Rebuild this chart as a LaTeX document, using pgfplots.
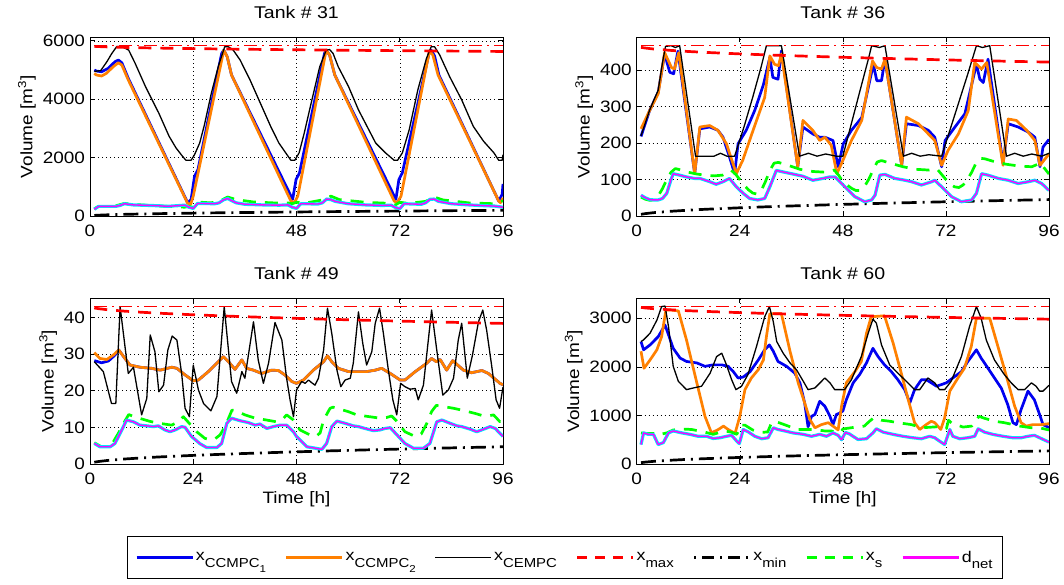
\documentclass[border=0pt]{standalone}
\usepackage{fontspec}
\setmainfont{Liberation Sans}[FakeStretch=1.15]
\usepackage{pgfplots}
\pgfplotsset{compat=1.18}
\definecolor{cB}{RGB}{0,0,240}
\definecolor{cO}{RGB}{255,128,0}
\definecolor{cG}{RGB}{0,255,0}
\definecolor{cM}{RGB}{255,0,255}
\definecolor{cC}{RGB}{0,230,255}
\newcommand{\sub}[1]{\raisebox{-0.42em}{\fontsize{13}{13}\selectfont #1}}
\newcommand{\subsub}[1]{\raisebox{-0.38em}{\fontsize{10}{10}\selectfont #1}}
\pgfplotsset{
  tank/.style={
    scale only axis, anchor=south west,
    xmin=0, xmax=96, ymin=0,
    xtick={0,24,48,72,96},
    grid=major,
    grid style={black, line width=0.5pt, dash pattern=on 0.8pt off 3.2pt},
    axis line style={line width=0.8pt},
    tick align=inside, major tick length=5pt,
    tick style={line width=0.6pt, black},
    every tick label/.append style={font=\fontsize{16.5}{18}\selectfont},
    /pgf/number format/assume math mode=true,
    /pgf/number format/1000 sep={},
    scaled y ticks=false,
    xticklabel style={yshift=-5pt},
    yticklabel style={xshift=-1.5pt},
    title style={font=\fontsize{17}{19}\selectfont, yshift=9pt},
    label style={font=\fontsize{16.5}{18}\selectfont},
    ylabel={Volume [m\textsuperscript{3}]},
    line join=round,
  },
  sB/.style={color=cB, line width=2.7pt},
  sO/.style={color=cO, line width=2.7pt},
  sK/.style={black, line width=1.3pt},
  sRd/.style={red, line width=1.1pt, dash pattern=on 13pt off 5pt on 2pt off 5pt},
  sR/.style={red, line width=2.7pt, dash pattern=on 13pt off 9pt},
  sKd/.style={black, line width=2.7pt, dash pattern=on 15pt off 6pt on 2pt off 6pt},
  sG/.style={color=cG, line width=2.7pt, dash pattern=on 13pt off 9pt},
  sC/.style={color=cC, line width=3.2pt},
  sM/.style={color=cM, line width=1.4pt},
}
\begin{document}
\begin{tikzpicture}[x=1pt,y=1pt]
\path[use as bounding box] (0,0) rectangle (1064,585);

% ---------------- Tank 31 ----------------
\begin{axis}[tank, at={(90pt,369pt)}, width=413pt, height=178.7pt,
  ymax=6120, ytick={0,2000,4000,6000}, title={Tank \# 31}]
\addplot[sB] coordinates {(1,5000) (1.5,4964) (2.7,4940) (4.2,5055) (5.8,5282) (6.6,5340) (7.4,5248) (8.9,4714) (22.7,454) (23.5,568) (24.3,1363) (25.1,1590) (30.6,5566) (31.1,5680) (31.9,5450) (32.9,4828) (47.1,568) (47.9,1250) (48.7,1477) (54.5,5566) (54.9,5680) (55.7,5510) (56.9,4828) (71.1,568) (71.8,1250) (72.6,1477) (78.8,5566) (79.3,5680) (80.1,5480) (81.1,4828) (95,511) (95.8,738) (96,1100)};
\addplot[sO] coordinates {(1,4880) (1.5,4828) (2.7,4794) (3.8,4885) (5.4,5112) (6.6,5248) (7.4,5169) (8.9,4658) (22.7,432) (23.4,400) (24,680) (31.1,5680) (31.9,5450) (32.9,4828) (46.7,511) (47.5,454) (48.3,680) (54.9,5680) (55.7,5510) (56.9,4828) (70.7,511) (71.4,454) (72.3,680) (78.9,5657) (79.7,5510) (80.9,4828) (95,511) (95.4,454) (96,620)};
\addplot[sK] coordinates {(1,4950) (2.5,4980) (4,5300) (5,5550) (6.2,5800) (7.4,5800) (9,5680) (10.5,5226) (12.9,4430) (16,3520) (18.4,2726) (20,2330) (21.5,2045) (22.3,1908) (23.5,1908) (24.3,2100) (25.5,2500) (26.6,3124) (28.2,4200) (29.8,5112) (31.3,5794) (32.1,5800) (33.3,5680) (34.9,5340) (37.2,4658) (39.6,3862) (42,3067) (43.9,2500) (45.5,2160) (46.7,1908) (47.6,1908) (48.6,2160) (49.8,2840) (51.4,3862) (53.4,5112) (54.9,5680) (55.7,5700) (56.5,5566) (57.7,5112) (60.1,4430) (62.4,3635) (64.8,2954) (66.4,2500) (68.7,2160) (70.7,1908) (71.5,1908) (72.6,2160) (74.2,2954) (76.2,4317) (78.2,5396) (79.3,5794) (80.1,5794) (81.3,5510) (83.6,4771) (86.4,3976) (89.1,3067) (91.5,2556) (93.9,2160) (95,1908) (95.8,1908) (96,2100)};
\addplot[sRd] coordinates {(1,5830) (96,5830)};
\addplot[sR] coordinates {(1,5810) (2,5802) (4,5790) (8,5774) (12,5761) (16,5750) (24,5732) (32,5717) (40,5704) (48,5692) (56,5681) (64,5671) (72,5661) (80,5652) (88,5643) (96,5635)};
\addplot[sKd] coordinates {(1,20) (2,28) (4,40) (8,56) (12,69) (16,80) (24,98) (32,113) (40,126) (48,138) (56,149) (64,159) (72,169) (80,178) (88,187) (96,195)};
\addplot[sG] coordinates {(1,250) (2,330) (4,330) (6,350) (8,430) (10,400) (14,360) (18,330) (22,300) (23,330) (24,300) (25,480) (28,450) (30,500) (32,650) (34,560) (38,480) (44,440) (46,450) (47,420) (48,470) (50,440) (54,550) (56,680) (58,560) (64,470) (70,430) (71,380) (72,470) (74,430) (78,500) (80,650) (82,550) (88,450) (94,420) (96,520)};
\addplot[sC] coordinates {(1,230) (2,330) (6,330) (7,360) (8,420) (9,400) (10,380) (12,370) (14,360) (16,350) (18,330) (20,350) (22,370) (23,300) (24,260) (25,430) (29,420) (30,450) (31,550) (32,600) (33,520) (34,450) (36,400) (40,380) (44,370) (46,380) (47,300) (48,260) (49,420) (53,410) (54,450) (55,580) (56,560) (57,500) (60,420) (64,380) (68,360) (70,370) (71,290) (72,250) (73,420) (77,400) (78,450) (79,570) (80,580) (81,500) (84,420) (88,380) (92,350) (94,340) (96,300)};
\addplot[sM] coordinates {(1,230) (2,330) (6,330) (7,360) (8,420) (9,400) (10,380) (12,370) (14,360) (16,350) (18,330) (20,350) (22,370) (23,300) (24,260) (25,430) (29,420) (30,450) (31,550) (32,600) (33,520) (34,450) (36,400) (40,380) (44,370) (46,380) (47,300) (48,260) (49,420) (53,410) (54,450) (55,580) (56,560) (57,500) (60,420) (64,380) (68,360) (70,370) (71,290) (72,250) (73,420) (77,400) (78,450) (79,570) (80,580) (81,500) (84,420) (88,380) (92,350) (94,340) (96,300)};
\end{axis}

% ---------------- Tank 36 ----------------
\begin{axis}[tank, at={(636.7pt,369pt)}, width=412.3pt, height=178.7pt,
  ymax=490, ytick={0,100,200,300,400}, title={Tank \# 36}]
\addplot[sB] coordinates {(1,218) (3,289) (5,339) (6.5,444) (7.7,394) (8.6,390) (9.6,452) (13.5,116) (14.7,239) (17,244) (18.9,235) (20.1,216) (21.6,162) (22.8,116) (23.6,198) (25.5,235) (27.5,290) (29.5,360) (31,435) (31.7,380) (32.9,375) (33.7,453) (37.5,135) (38.7,244) (41,225) (42.6,216) (43.8,216) (45.7,207) (46.9,135) (48.1,198) (50,235) (52.4,270) (55.1,416) (55.9,371) (57,371) (57.8,430) (61.7,139) (62.8,253) (65.6,248) (67.9,235) (69.4,216) (71,135) (71.8,207) (74.1,244) (76.4,280) (79.1,416) (79.9,375) (80.7,366) (81.8,430) (85.3,144) (86.5,253) (88.8,244) (91.2,230) (92.7,216) (93.9,135) (94.6,189) (96,210)};
\addplot[sO] coordinates {(1,239) (3,289) (5,335) (6.5,448) (8.1,407) (8.8,403) (9.8,448) (13.5,116) (14.7,244) (17,248) (18.9,235) (20.9,198) (22.4,144) (23.2,116) (24.7,153) (27.1,235) (29.8,325) (31,439) (32.1,416) (33,412) (33.7,444) (37.5,135) (38.7,262) (41,235) (42.6,207) (43.8,216) (45.3,194) (46.6,116) (47.7,144) (50,207) (52.4,262) (54.9,425) (55.9,407) (57,403) (57.8,430) (61.7,139) (62.8,271) (65.6,253) (67.9,225) (69.4,207) (71,139) (72.5,180) (74.9,225) (77.2,289) (78.7,421) (80.3,403) (81.5,421) (85.3,139) (86.5,266) (88.4,262) (90.8,235) (92.7,207) (93.9,139) (96,170)};
\addplot[sK] coordinates {(1,220) (2,255) (3,290) (4,318) (5,345) (6,420) (6.7,465) (8,467) (9,462) (10,467) (13.7,164) (16,164) (18,164) (19.5,172) (21,164) (22.8,164) (25,245) (27,325) (29,410) (30.2,467) (33.7,467) (37.9,164) (40,172) (42,164) (44,170) (46.5,164) (48,164) (50,254) (52,344) (54,433) (54.7,467) (56.5,462) (57.8,467) (62.1,164) (64,172) (66,164) (68,168) (71,164) (73,238) (75,312) (77,386) (79.1,467) (80.5,462) (82.2,467) (86.1,164) (88,172) (90,164) (92,170) (94.3,164) (96,172)};
\addplot[sRd] coordinates {(1,467) (96,467)};
\addplot[sR] coordinates {(1,462.4) (2,460.5) (4,457.8) (8,454) (12,451.1) (16,448.6) (24,444.5) (32,441) (40,438) (48,435.2) (56,432.6) (64,430.3) (72,428) (80,425.9) (88,423.9) (96,422)};
\addplot[sKd] coordinates {(1,4.6) (2,6.5) (4,9.2) (8,13) (12,15.9) (16,18.4) (24,22.5) (32,26) (40,29) (48,31.8) (56,34.4) (64,36.7) (72,39) (80,41.1) (88,43.1) (96,45)};
\addplot[sG] coordinates {(1,52) (2,46) (3,43) (4,44) (5,55) (6,75) (7,100) (8,120) (9,130) (10,127) (12,120) (14,115) (16,112) (18,110) (20,112) (21,118) (22,125) (23,115) (24,100) (25,85) (26,72) (27,63) (28,60) (29,70) (30,95) (31,125) (32,145) (33,147) (35,140) (38,128) (41,122) (44,120) (45,123) (46,126) (47,112) (48,95) (49,85) (50,76) (51,70) (52,70) (53,80) (54,100) (55,125) (56,148) (57,152) (59,145) (62,135) (65,128) (68,126) (69,128) (70,128) (71,114) (72,100) (73,87) (74,80) (75,78) (76,85) (77,100) (78,120) (79,145) (80,158) (81,157) (83,150) (86,142) (89,137) (92,135) (93,140) (94,145) (95,130) (96,115)};
\addplot[sC] coordinates {(1,57) (2,50) (3,45) (4,44) (5,44) (6,48) (7,62) (8,100) (8.5,116) (10,112) (11.6,107) (13.5,103) (14.7,103) (17,94) (18.5,87) (20.1,94) (21.6,103) (23.2,80) (24.8,62) (26.3,48) (28.2,44) (29.8,48) (31,80) (32.5,125) (34,121) (36.4,115) (38.7,109) (41,98) (43.4,103) (44.9,107) (46.2,107) (48.5,80) (50.8,53) (53.1,39) (54.7,44) (55.5,57) (56.6,112) (57.8,114) (60.1,103) (62.5,98) (64,94) (66.3,85) (68.7,94) (69.4,98) (71,80) (73.3,53) (75.6,39) (78,44) (79.1,62) (80.3,116) (81.8,112) (84.2,103) (86.5,98) (88.8,89) (91.2,94) (92.7,98) (94.3,89) (96,70)};
\addplot[sM] coordinates {(1,57) (2,50) (3,45) (4,44) (5,44) (6,48) (7,62) (8,100) (8.5,116) (10,112) (11.6,107) (13.5,103) (14.7,103) (17,94) (18.5,87) (20.1,94) (21.6,103) (23.2,80) (24.8,62) (26.3,48) (28.2,44) (29.8,48) (31,80) (32.5,125) (34,121) (36.4,115) (38.7,109) (41,98) (43.4,103) (44.9,107) (46.2,107) (48.5,80) (50.8,53) (53.1,39) (54.7,44) (55.5,57) (56.6,112) (57.8,114) (60.1,103) (62.5,98) (64,94) (66.3,85) (68.7,94) (69.4,98) (71,80) (73.3,53) (75.6,39) (78,44) (79.1,62) (80.3,116) (81.8,112) (84.2,103) (86.5,98) (88.8,89) (91.2,94) (92.7,98) (94.3,89) (96,70)};
\end{axis}

% ---------------- Tank 49 ----------------
\begin{axis}[tank, at={(90pt,121pt)}, width=413pt, height=165.7pt,
  ymax=45.2, ytick={0,10,20,30,40}, title={Tank \# 49}, xlabel={Time [h]}]
\addplot[sB] coordinates {(1,28.2) (2.7,27.6) (4.3,28.1) (5.8,29.7) (6.7,31.1) (7.8,29.3) (9.3,27) (11.6,26.4) (14.3,26.1) (16.3,25.6) (19,26.4) (20.2,26.1) (22.1,24.3) (24,22.7) (25.2,22.9) (27.5,25.2) (29.8,27.9) (31,29.3) (32.2,27.9) (33.7,25.8) (35.3,28.4) (36.4,26.1) (38,25.6) (39.9,24.7) (42.2,25.6) (43.8,25.5) (45.3,24.3) (46.9,22.5) (48,22) (49.6,22.9) (51.9,25.6) (54.3,27.9) (55.2,29.5) (56.2,27.9) (57.7,26.1) (60.1,25.2) (62,25.2) (64.3,25.2) (66.3,25.6) (67.8,26.1) (69.8,24.7) (72.1,22.9) (73.2,22.9) (75.6,25.2) (78.3,27.5) (79.4,28.8) (80.5,27.9) (81.4,28.5) (82.9,25.6) (84.3,28.2) (86.8,25.6) (88.7,24.9) (91.1,25.5) (92.6,24.7) (95.3,22) (96,21.6)};
\addplot[sO] coordinates {(1,30.4) (2.3,28.8) (3.9,28.5) (5.4,29.7) (6.7,31.1) (7.8,29.3) (9.3,27) (11.6,26.4) (14.3,26.1) (16.3,25.6) (19,26.4) (20.2,26.1) (22.1,24.3) (24,22.7) (25.2,22.9) (27.5,25.2) (29.8,27.9) (31,29.3) (32.2,27.9) (33.7,25.8) (35.3,28.4) (36.4,26.1) (38,25.6) (39.9,24.7) (42.2,25.6) (43.8,25.5) (45.3,24.3) (46.9,22.5) (48,22) (49.6,22.9) (51.9,25.6) (54.3,27.9) (55.2,29.5) (56.2,27.9) (57.7,26.1) (60.1,25.2) (62,25.2) (64.3,25.2) (66.3,25.6) (67.8,26.1) (69.8,24.7) (72.1,22.9) (73.2,22.9) (75.6,25.2) (78.3,27.5) (79.4,28.8) (80.5,27.9) (81.4,28.5) (82.9,25.6) (84.3,28.2) (86.8,25.6) (88.7,24.9) (91.1,25.5) (92.6,24.7) (95.3,22) (96,21.6)};
\addplot[sK] coordinates {(1,27.9) (3.1,25.2) (5,16.5) (6,16.5) (7,42.9) (8.9,24.7) (10.1,26.4) (12,13.4) (13.2,17.9) (14,35.2) (15.1,30.6) (16,19.7) (17.1,21.5) (18.1,31.1) (19.1,34.9) (20.2,33.8) (21.3,24.7) (22.1,15.2) (23.1,12.9) (24,27) (25.2,20.2) (26.4,16.5) (28.1,14.5) (29.5,18.4) (31.2,42.9) (32.9,22.5) (34.1,19.3) (35.3,25.2) (36,23.4) (38,38.8) (39.1,28.4) (40.3,22) (41.5,27.5) (43,38.6) (44.6,33.8) (45.7,23.4) (46.5,17.5) (47.3,12.9) (48,20.2) (49.2,22.5) (50,22) (50.8,22.9) (51.5,22.2) (52.3,21.5) (53.1,23.4) (54.3,31.1) (55.2,42.5) (56.2,35.6) (57.4,25.6) (58.3,21.1) (59.3,22.9) (60.5,23.4) (61.2,27.5) (62.4,41.5) (63.4,32.9) (64.3,27) (65.5,30.6) (66.3,38.4) (67.3,42.5) (68.2,35.6) (69.4,25.2) (70.4,17.5) (71.3,13.4) (72.2,22) (73.2,21.1) (74.4,20.4) (75.6,20.6) (76.3,17.5) (77.5,21.5) (79.4,42) (80.6,31.1) (82,18.8) (83.3,20.2) (84.5,23.4) (85.6,33.8) (86.4,38.4) (87.7,23.4) (88.9,29.7) (90.3,38.8) (91.3,42) (92.2,36.5) (93.4,26.5) (94.4,17.5) (95.2,15.2) (96,21)};
\addplot[sRd] coordinates {(1,43.05) (96,43.05)};
\addplot[sR] coordinates {(1,42.57) (2,42.37) (4,42.09) (8,41.69) (12,41.39) (16,41.13) (24,40.7) (32,40.34) (40,40.02) (48,39.73) (56,39.46) (64,39.21) (72,38.98) (80,38.76) (88,38.55) (96,38.35)};
\addplot[sKd] coordinates {(1,0.48) (2,0.68) (4,0.96) (8,1.36) (12,1.66) (16,1.92) (24,2.35) (32,2.71) (40,3.03) (48,3.32) (56,3.59) (64,3.84) (72,4.07) (80,4.29) (88,4.5) (96,4.7)};
\addplot[sG] coordinates {(1,5.8) (2.5,4.8) (4,4.8) (5,5.2) (6.6,8.4) (8,11.5) (9,13.5) (10,13) (12,12.3) (14,11.6) (16.7,11) (19,10.6) (20.5,11.5) (21.7,12.9) (23,11.2) (24.8,8.8) (26.7,7) (28,6.6) (29,6.8) (30.2,7.9) (31.4,10.2) (33,14.7) (34,14.5) (36,13.4) (38.4,12.5) (41,12) (43.4,11.5) (45,12.5) (45.7,13.4) (47.3,12) (48.8,9.3) (51.2,7.9) (52.5,7.5) (53.5,8.5) (54.3,12) (55.8,15.2) (56.5,15.5) (60,14.3) (62,13.4) (65,12.9) (67.4,12.5) (69,12.7) (70.1,13.1) (71.3,11.7) (73.2,8.8) (75.6,7.5) (77,8.2) (78.3,11.1) (79.4,14.3) (80.5,16) (82,15.7) (84.5,15.2) (86.4,14.7) (89.5,13.8) (91.5,13.1) (93,13.2) (93.8,13.4) (95.3,11.5) (96,12)};
\addplot[sC] coordinates {(1,5.6) (2.3,4.7) (4.7,4.7) (5.8,5.6) (7.4,9.3) (8.5,12) (10.1,11.5) (11.6,10.6) (13.2,10.4) (14.7,10.2) (15.9,10.4) (17.4,9.3) (18.6,8.8) (19.8,9.3) (21.3,10.2) (22.1,10) (23.6,7.5) (25.6,5.5) (27.1,4.5) (29.5,4.5) (30.6,5.6) (31.8,11.1) (32.9,12.5) (34.9,11.8) (36.8,11.3) (38.4,10.6) (39.5,10.9) (41.1,9.7) (42.6,10.2) (44.2,10.6) (45.7,10.6) (47.3,8.8) (48,7.5) (50.4,4.7) (53.9,4) (55,5.6) (56.2,10.2) (57.4,11.7) (59.3,11.1) (61.2,10.4) (62.4,10.2) (63.9,9.7) (65.9,9.1) (67.4,9.3) (68.6,9.7) (69.8,9.9) (71.7,7.5) (73.2,5.6) (75.2,4.3) (77.5,4.3) (79,5.6) (80.6,11.5) (81.8,12) (83.7,11.1) (85.3,10.4) (86.4,10.2) (88.4,9.5) (89.9,8.8) (91.5,9.5) (93,10.2) (94.2,9.7) (96,7.5)};
\addplot[sM] coordinates {(1,5.6) (2.3,4.7) (4.7,4.7) (5.8,5.6) (7.4,9.3) (8.5,12) (10.1,11.5) (11.6,10.6) (13.2,10.4) (14.7,10.2) (15.9,10.4) (17.4,9.3) (18.6,8.8) (19.8,9.3) (21.3,10.2) (22.1,10) (23.6,7.5) (25.6,5.5) (27.1,4.5) (29.5,4.5) (30.6,5.6) (31.8,11.1) (32.9,12.5) (34.9,11.8) (36.8,11.3) (38.4,10.6) (39.5,10.9) (41.1,9.7) (42.6,10.2) (44.2,10.6) (45.7,10.6) (47.3,8.8) (48,7.5) (50.4,4.7) (53.9,4) (55,5.6) (56.2,10.2) (57.4,11.7) (59.3,11.1) (61.2,10.4) (62.4,10.2) (63.9,9.7) (65.9,9.1) (67.4,9.3) (68.6,9.7) (69.8,9.9) (71.7,7.5) (73.2,5.6) (75.2,4.3) (77.5,4.3) (79,5.6) (80.6,11.5) (81.8,12) (83.7,11.1) (85.3,10.4) (86.4,10.2) (88.4,9.5) (89.9,8.8) (91.5,9.5) (93,10.2) (94.2,9.7) (96,7.5)};
\end{axis}

% ---------------- Tank 60 ----------------
\begin{axis}[tank, at={(636.7pt,121pt)}, width=412.3pt, height=165.7pt,
  ymax=3410, ytick={0,1000,2000,3000}, title={Tank \# 60}, xlabel={Time [h]}]
\addplot[sB] coordinates {(1,2520) (1.6,2350) (3.1,2450) (5,2620) (6.6,2860) (7.4,2660) (8.5,2380) (10.1,2180) (11.6,2110) (14,2080) (15.9,2010) (17.8,2040) (19.8,2040) (21.3,2010) (22.5,1900) (23.6,1770) (24.8,1790) (26.4,1900) (28.3,2140) (29.8,2350) (30.9,2450) (31.8,2320) (32.9,2110) (34.9,2010) (36.8,1870) (38,1670) (39.1,1260) (39.9,765) (40.7,980) (41.5,1020) (42.6,1290) (43.8,1190) (45,980) (45.7,810) (46.5,1020) (47.1,1040) (48,1090) (48.8,1320) (50.4,1670) (51.9,1840) (53.5,2080) (55,2380) (56.2,2210) (57.7,2040) (59.3,1900) (60.8,1735) (62.4,1530) (63.6,1260) (64.7,1530) (66.3,1735) (67.4,1735) (68.6,1670) (69.8,1600) (70.8,1630) (72.1,1670) (73.6,1770) (75.6,1900) (77.1,2110) (79.1,2350) (80.2,2180) (81.8,1970) (83.3,1770) (84.9,1560) (86.4,1220) (87.6,850) (88.4,810) (89.5,1120) (91.1,1500) (92.6,1320) (93.8,1020) (94.6,810) (96,750)};
\addplot[sO] coordinates {(1,2320) (1.7,1970) (3.1,2140) (4.7,2350) (5.8,2620) (6.8,3170) (7.8,3170) (9.7,3150) (11.6,2550) (14,1670) (15.9,980) (17.4,640) (19,710) (20.2,780) (21.3,710) (22.9,630) (24,980) (25.2,1530) (26.7,1770) (28.3,1940) (29.5,2140) (30.2,2620) (31,3090) (33.7,3090) (35.7,2320) (37.6,1670) (39.1,1260) (40.3,920) (41.5,745) (43,810) (44.6,850) (45.7,780) (46.9,700) (47.7,1190) (48.8,1670) (50.8,1900) (52.3,2110) (53.5,2690) (54.6,3030) (57.7,3050) (59.7,2490) (61.6,1870) (63.2,1330) (64.7,850) (65.9,710) (67.4,810) (68.6,880) (69.4,850) (70.8,710) (71.7,950) (72.9,1500) (74.8,1770) (76.3,1970) (77.9,2420) (79.1,3000) (82.2,3000) (84.1,2420) (86.1,1800) (88,1190) (89.5,850) (90.7,780) (92.2,810) (94.2,810) (96,830)};
\addplot[sK] coordinates {(1,2520) (1.6,2555) (3.1,2690) (4.7,2960) (5.8,3240) (6.6,3250) (7.4,2830) (8.5,2010) (9.7,1700) (11.6,1530) (13.2,1565) (15.1,1600) (17.1,1870) (18.6,2210) (19.8,2280) (20.9,2040) (22.1,1735) (23.1,1530) (24.4,1600) (25.9,1840) (27.9,2420) (29.8,3030) (30.9,3240) (31.8,2930) (32.6,2520) (34.1,2280) (35.7,2080) (37.2,1940) (38.8,1700) (39.9,1530) (41.5,1565) (43.8,1770) (45,1670) (46.1,1530) (48.4,1530) (50,1735) (52.3,2210) (53.9,2690) (55,2980) (55.8,2900) (57,2450) (58.9,2040) (60.8,1870) (62.8,1700) (64.7,1530) (65.9,1530) (67.8,1770) (69.4,1670) (70.5,1530) (71.7,1530) (73.2,1700) (75.6,2210) (77.5,2830) (79.1,3240) (80.2,3000) (81.4,2550) (83.3,2140) (85.6,1840) (87.2,1670) (88.8,1530) (90.3,1530) (91.9,1670) (93,1600) (93.8,1500) (94.6,1500) (96,1620)};
\addplot[sRd] coordinates {(1,3250) (96,3250)};
\addplot[sR] coordinates {(1,3222.5) (2,3211) (4,3195) (8,3172) (12,3154) (16,3140) (24,3115) (32,3094) (40,3076) (48,3059) (56,3044) (64,3030) (72,3016) (80,3004) (88,2992) (96,2980)};
\addplot[sKd] coordinates {(1,27.5) (2,39) (4,55) (8,78) (12,96) (16,110) (24,135) (32,156) (40,174) (48,191) (56,206) (64,220) (72,234) (80,246) (88,258) (96,270)};
\addplot[sG] coordinates {(1,640) (2,630) (3.9,630) (5,600) (7,640) (8.5,700) (10.5,720) (12.8,710) (15.9,655) (17.8,610) (20.5,680) (22,655) (23.3,610) (24.3,800) (25.2,800) (27,700) (29,650) (30.5,660) (31.4,850) (32.2,880) (35.3,780) (37.2,710) (41.5,710) (43.8,680) (45.3,680) (46.9,640) (47.7,680) (48,720) (51,760) (53,780) (54.2,880) (55.2,950) (57,900) (58.9,880) (60.8,850) (64,810) (66.3,745) (69.8,765) (72.1,725) (72.6,900) (73.5,830) (76,760) (78,780) (79.7,980) (81,940) (83.3,880) (85.6,850) (89.2,780) (91.9,745) (94,740) (96,700)};
\addplot[sC] coordinates {(1,400) (1.6,640) (2.7,610) (3.9,610) (5,400) (6.2,440) (7.4,640) (8.5,680) (10.5,640) (12.4,610) (14.3,570) (16.3,570) (17.8,525) (19.4,540) (20.9,570) (22.1,590) (23.3,470) (23.9,420) (24.8,710) (26,660) (27.5,570) (29.1,520) (30.6,540) (31.8,745) (32.9,710) (34.5,680) (36.4,640) (38.8,610) (40.7,570) (42.6,610) (44.2,570) (45.7,640) (46.9,590) (47.7,500) (48.6,650) (49.5,620) (51.5,505) (53.5,520) (55,640) (55.8,725) (57.4,655) (59.7,610) (62,570) (64.3,540) (66.3,520) (68.2,570) (69.4,540) (70.5,470) (71.7,400) (72.9,710) (73.6,570) (75.2,520) (77.1,540) (78.7,570) (79.5,725) (81,655) (82.9,610) (85.3,570) (87.6,540) (89.5,540) (91.1,570) (92.6,590) (93.8,540) (96,450)};
\addplot[sM] coordinates {(1,400) (1.6,640) (2.7,610) (3.9,610) (5,400) (6.2,440) (7.4,640) (8.5,680) (10.5,640) (12.4,610) (14.3,570) (16.3,570) (17.8,525) (19.4,540) (20.9,570) (22.1,590) (23.3,470) (23.9,420) (24.8,710) (26,660) (27.5,570) (29.1,520) (30.6,540) (31.8,745) (32.9,710) (34.5,680) (36.4,640) (38.8,610) (40.7,570) (42.6,610) (44.2,570) (45.7,640) (46.9,590) (47.7,500) (48.6,650) (49.5,620) (51.5,505) (53.5,520) (55,640) (55.8,725) (57.4,655) (59.7,610) (62,570) (64.3,540) (66.3,520) (68.2,570) (69.4,540) (70.5,470) (71.7,400) (72.9,710) (73.6,570) (75.2,520) (77.1,540) (78.7,570) (79.5,725) (81,655) (82.9,610) (85.3,570) (87.6,540) (89.5,540) (91.1,570) (92.6,590) (93.8,540) (96,450)};
\end{axis}

% ---------------- Legend ----------------
\begin{axis}[at={(0pt,0pt)}, anchor=south west, width=1064pt, height=585pt,
  scale only axis, hide axis, xmin=0, xmax=1, ymin=0, ymax=1,
  legend columns=7,
  legend image code/.code={\draw[#1] (0pt,0pt) -- (56pt,0pt);},
  legend style={at={(0.531,0.047)}, anchor=center, draw=black, line width=0.8pt,
    font=\fontsize{15.5}{17}\selectfont, inner xsep=8pt, inner ysep=13pt,
    /tikz/every even column/.append style={column sep=17pt}},
]
\addlegendimage{color=cB, line width=2.6pt}
\addlegendentry{x\sub{CCMPC\subsub{1}}}
\addlegendimage{color=cO, line width=2.6pt}
\addlegendentry{x\sub{CCMPC\subsub{2}}}
\addlegendimage{black, line width=1.3pt}
\addlegendentry{x\sub{CEMPC}}
\addlegendimage{red, line width=2.6pt, dash pattern=on 10pt off 8pt}
\addlegendentry{x\sub{max}}
\addlegendimage{black, line width=2.6pt, dash pattern=on 2pt off 6pt on 12pt off 6pt}
\addlegendentry{x\sub{min}}
\addlegendimage{color=cG, line width=2.6pt, dash pattern=on 10pt off 8pt}
\addlegendentry{x\sub{s}}
\addlegendimage{color=cM, line width=2.6pt}
\addlegendentry{d\sub{net}}
\end{axis}
\end{tikzpicture}
\end{document}
